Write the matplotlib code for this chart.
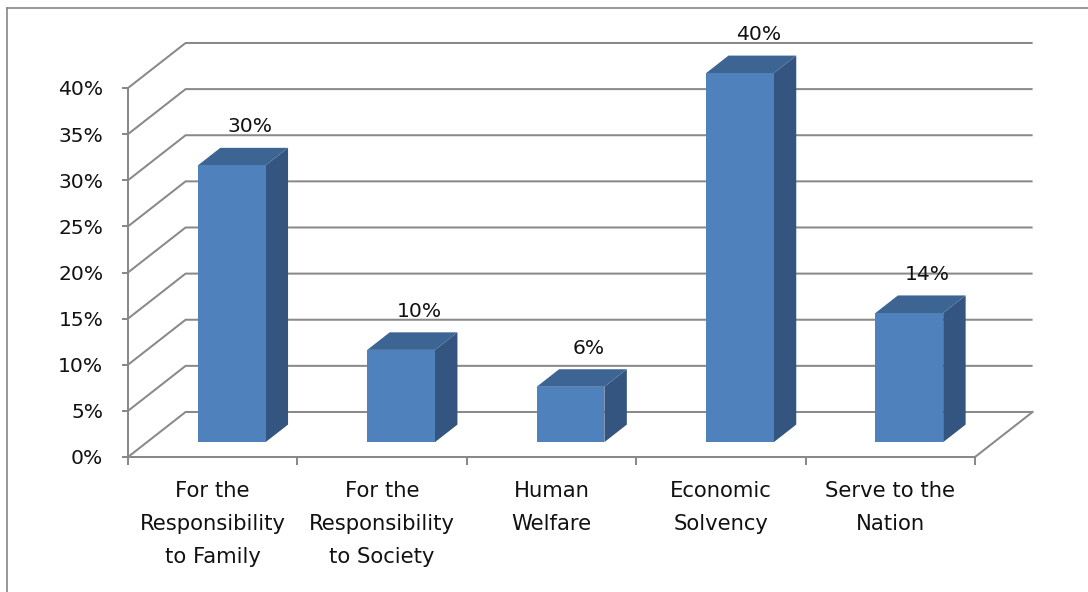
import matplotlib
matplotlib.use("Agg")
import matplotlib.pyplot as plt
from matplotlib.patches import Polygon
from matplotlib.lines import Line2D

# ---- data ----
categories = ["For the\nResponsibility\nto Family",
              "For the\nResponsibility\nto Society",
              "Human\nWelfare",
              "Economic\nSolvency",
              "Serve to the\nNation"]
values = [30, 10, 6, 40, 14]
y_ticks = [0, 5, 10, 15, 20, 25, 30, 35, 40]
y_tick_labels = [f"{t}%" for t in y_ticks]
value_labels = [f"{v}%" for v in values]

# ---- style / layout ----
W, H = 1088, 592
FONT = "DejaVu Sans"
TXT = "#111111"
GRID = "#898989"
LW = 1.45
FRONT = "#4F81BD"
SIDE = "#34557F"
TOP = "#3D6594"
DX, DY = 0.34, 4.88       # depth offset of back plane (category units, percent units)
D0, D1 = 0.33, 0.72       # bar front/back depth fraction
BW = 0.40                 # bar width in category units

plt.rcParams["font.family"] = [FONT]

fig = plt.figure(figsize=(W / 100, H / 100), dpi=100)
fig.patch.set_facecolor("white")

# outer chart border (left and top visible)
fig.add_artist(Line2D([7 / W, 7 / W], [0, 1 - 8 / H], transform=fig.transFigure,
                      color="#868686", lw=1.2))
fig.add_artist(Line2D([7 / W, 1.0], [1 - 8 / H, 1 - 8 / H], transform=fig.transFigure,
                      color="#868686", lw=1.2))

ax = fig.add_axes([128 / W, (H - 457) / H, (975 - 128) / W, (457 - 88) / H])
ax.set_facecolor("none")
n = len(values)
ax.set_xlim(-0.5, n - 0.5)
ax.set_ylim(y_ticks[0], y_ticks[-1])

# walls / gridlines
for t in y_ticks:
    ax.plot([-0.5, -0.5 + DX, n - 0.5 + DX], [t, t + DY, t + DY], color=GRID, lw=LW,
            clip_on=False, zorder=1, solid_capstyle="butt")
ax.plot([n - 0.5, n - 0.5 + DX], [0, DY], color=GRID, lw=LW, clip_on=False, zorder=1)

# bars
ddx, ddy = (D1 - D0) * DX, (D1 - D0) * DY
for i, v in enumerate(values):
    x0 = i - BW / 2 + D0 * DX
    x1 = x0 + BW
    yb = D0 * DY
    yt = v + D0 * DY
    side = Polygon([(x1, yb), (x1 + ddx, yb + ddy), (x1 + ddx, yt + ddy), (x1, yt)],
                   closed=True, fc=SIDE, ec="none", clip_on=False, zorder=3)
    top = Polygon([(x0, yt), (x1, yt), (x1 + ddx, yt + ddy), (x0 + ddx, yt + ddy)],
                  closed=True, fc=TOP, ec="none", clip_on=False, zorder=3)
    front = Polygon([(x0, yb), (x1, yb), (x1, yt), (x0, yt)],
                    closed=True, fc=FRONT, ec="none", clip_on=False, zorder=4)
    for p in (side, top, front):
        ax.add_patch(p)
    ax.text(i + 0.22, v + 5.8, value_labels[i], ha="center", va="center",
            fontsize=14.6, color=TXT, clip_on=False, zorder=5)

# axes
for s in ("top", "right"):
    ax.spines[s].set_visible(False)
for s in ("left", "bottom"):
    ax.spines[s].set_color(GRID)
    ax.spines[s].set_linewidth(LW)
    ax.spines[s].set_zorder(2)

ax.set_yticks(y_ticks)
ax.set_yticklabels(y_tick_labels)
ax.tick_params(axis="y", length=4.3, width=LW, color=GRID, pad=13.5,
               labelsize=14.6, labelcolor=TXT)

ax.set_xticks(range(n))
ax.set_xticklabels(categories, linespacing=1.8)
ax.set_xticks([i - 0.5 for i in range(n + 1)], minor=True)
ax.tick_params(axis="x", which="major", length=0, pad=17.5, labelsize=15.2,
               labelcolor=TXT)
ax.tick_params(axis="x", which="minor", length=5.8, width=LW, color=GRID)

fig.savefig("out.png", dpi=100, facecolor="white")
